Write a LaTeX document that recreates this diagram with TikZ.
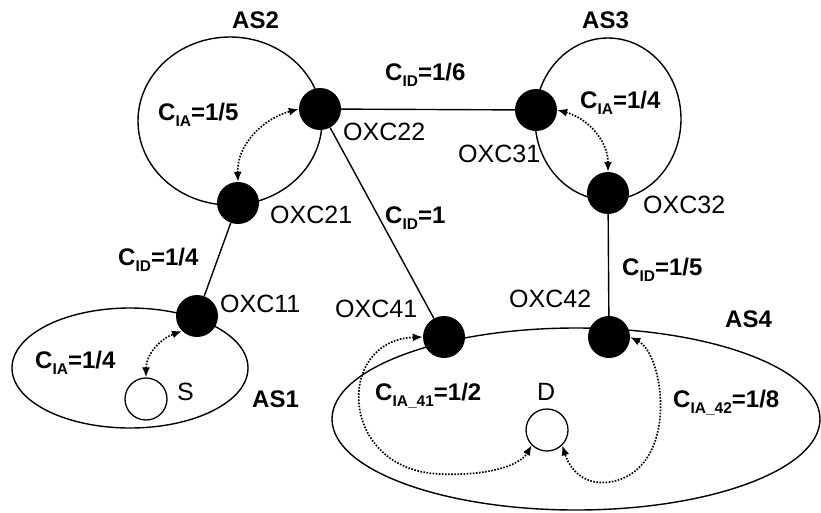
\documentclass[tikz,border=0pt]{standalone}
\usepackage{fontspec}
\setmainfont{Liberation Sans}
\usetikzlibrary{arrows.meta}
\newcommand{\sbs}[1]{\raisebox{-6pt}{\fontsize{15.5}{15.5}\selectfont #1}}
\begin{document}
\begin{tikzpicture}[x=1pt,y=-1pt,
  oxc/.style={circle,fill=black,minimum size=42pt,inner sep=0pt},
  host/.style={circle,draw=black,line width=1.3pt,fill=white,minimum size=42pt,inner sep=0pt},
  dom/.style={draw=black,line width=1.4pt},
  link/.style={draw=black,line width=1.4pt},
  ctrl/.style={line width=1.7pt,dash pattern=on 1.6pt off 1.5pt,{Latex[length=10pt,width=8pt]}-{Latex[length=10pt,width=8pt]}},
  lbl/.style={font=\fontsize{25}{25}\selectfont,inner sep=0pt,anchor=base west},
  blbl/.style={font=\fontsize{24}{24}\selectfont\bfseries,inner sep=0pt,anchor=base west}]
\useasboundingbox (0,0) rectangle (821,512);
% domains
\draw[dom] (230,121) ellipse [x radius=92pt, y radius=84pt];
\draw[dom] (608,119) ellipse [x radius=73pt, y radius=81pt];
\draw[dom] (130,368) ellipse [x radius=118pt, y radius=60pt];
\draw[dom] (576,419) ellipse [x radius=244pt, y radius=91pt];
% nodes
\node[oxc] (oxc22) at (320,109) {};
\node[oxc] (oxc21) at (238,203) {};
\node[oxc] (oxc31) at (536,110) {};
\node[oxc] (oxc32) at (608,193) {};
\node[oxc] (oxc11) at (197,316) {};
\node[oxc] (oxc41) at (444,337) {};
\node[oxc] (oxc42) at (609,337) {};
\node[host] (s) at (146,399) {};
\node[host] (d) at (547,430) {};
% links
\draw[link] (oxc22) -- (oxc31);
\draw[link] (oxc22) -- (oxc41);
\draw[link] (oxc21) -- (oxc11);
\draw[link] (oxc32) -- (oxc42);
% control arrows
\draw[ctrl] (oxc21.north) to[out=92,in=195] (oxc22.west);
\draw[ctrl] (oxc32.north) to[out=90,in=-15] (oxc31.east);
\draw[ctrl] (s.north) to[out=90,in=200] (oxc11.south west);
\draw[ctrl] (oxc41.west) .. controls (335,340) and (338,470) .. (440,474) .. controls (490,476) and (520,465) .. (d.south west);
\draw[ctrl] (oxc42.east) .. controls (665,355) and (680,470) .. (610,482) .. controls (585,486) and (570,470) .. (d.south east);
% labels
\node[blbl] (las2) at (232,28) {AS2};
\node[blbl] (las3) at (582,28) {AS3};
\node[blbl] (las1) at (252,407) {AS1};
\node[blbl] (las4) at (725,327) {AS4};
\node[blbl] (c1) at (385,80) {C\sbs{ID}=1/6};
\node[blbl] (c2) at (158,120) {C\sbs{IA}=1/5};
\node[blbl] (c3) at (580,108) {C\sbs{IA}=1/4};
\node[blbl] (c4) at (385,223) {C\sbs{ID}=1};
\node[blbl] (c5) at (118,265) {C\sbs{ID}=1/4};
\node[blbl] (c6) at (622,275) {C\sbs{ID}=1/5};
\node[blbl] (c7) at (35,368) {C\sbs{IA}=1/4};
\node[blbl] (c8) at (375,400) {C\sbs{IA\_41}=1/2};
\node[blbl] (c9) at (673,407) {C\sbs{IA\_42}=1/8};
\node[lbl] (t22) at (343,140) {OXC22};
\node[lbl] (t31) at (458,162) {OXC31};
\node[lbl] (t21) at (270,223) {OXC21};
\node[lbl] (t32) at (643,213) {OXC32};
\node[lbl] (t41) at (335,317) {OXC41};
\node[lbl] (t11) at (220,312) {OXC11};
\node[lbl] (t42) at (509,307) {OXC42};
\node[lbl] (ts) at (177,400) {S};
\node[lbl] (td) at (537,400) {D};
\end{tikzpicture}
\end{document}
